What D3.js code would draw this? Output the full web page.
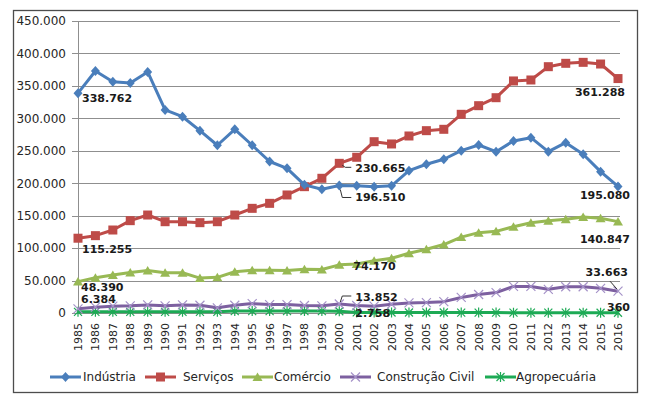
<!DOCTYPE html>
<html>
<head>
<meta charset="utf-8">
<script src="https://cdn.jsdelivr.net/npm/d3@7"></script>
<style>
	body { margin: 0; background: #fff; }
	svg { display: block; font-family: "DejaVu Sans", sans-serif; }
</style>
</head>
<body>
<div id="chart"></div>
<script>
// Data
const years = d3.range(1985, 2017).map(String)

const industria = [338762, 373000, 356500, 354500, 371500, 313000, 302500, 281000, 258500, 283000,
	258500, 233500, 223000, 197500, 190700, 196510, 196000, 194700, 196000, 219300,
	229200, 236900, 250200, 258900, 248600, 265100, 270200, 248600, 262500, 244600,
	217800, 195080]
const servicos = [115255, 119200, 127900, 142300, 151000, 140700, 140700, 139200, 140700, 151000,
	161300, 169000, 181900, 194700, 207600, 230665, 240000, 264000, 260500, 272800,
	281000, 283100, 306200, 319500, 331800, 357600, 359100, 379600, 384800, 386300,
	383700, 361288]
const comercio = [48390, 54400, 58600, 62400, 65500, 62000, 62000, 53800, 55000, 63500,
	65800, 65800, 65500, 67500, 67000, 74170, 75500, 80600, 84300, 92000,
	98200, 105500, 117000, 123800, 125800, 133000, 139200, 142300, 144400, 148000,
	146000, 140847]
const construcao = [6384, 9000, 10500, 11000, 12500, 11000, 12500, 12000, 8000, 12000,
	14500, 13000, 13000, 11500, 11000, 13852, 11500, 10500, 13500, 15500,
	16000, 17500, 24000, 28500, 31500, 41000, 41000, 36500, 40500, 40500,
	38000, 33663]
const agropecuaria = [1800, 1800, 1800, 1800, 1800, 1800, 1800, 1800, 1800, 3000,
	3000, 3000, 3000, 3000, 3000, 2758, 900, 800, 800, 700,
	700, 700, 600, 600, 600, 500, 500, 500, 500, 450,
	400, 360]

const seriesNames = ["Indústria", "Serviços", "Comércio", "Construção Civil", "Agropecuária"]
const yTicks = d3.range(0, 450001, 50000)

// labelled points: series index, year
const labelPoints = [
	[0, "1985"], [1, "1985"], [2, "1985"], [3, "1985"],
	[0, "2000"], [1, "2000"], [2, "2000"], [3, "2000"], [4, "2000"],
	[0, "2016"], [1, "2016"], [2, "2016"], [3, "2016"], [4, "2016"],
]

// Layout
const W = 650, H = 399
const colors = ["#4a7ebb", "#be4b48", "#98b954", "#7d60a0", "#1daa55"]
const markerColors = ["#4a7ebb", "#be4b48", "#98b954", "#a592c8", "#1daa55"]
const values = [industria, servicos, comercio, construcao, agropecuaria]

const fmt = d3.formatLocale({ decimal: ",", thousands: ".", grouping: [3], currency: ["R$", ""] }).format(",")

const svg = d3.select("#chart").append("svg").attr("width", W).attr("height", H)
svg.append("rect").attr("width", W).attr("height", H).attr("fill", "#fff")

// outer border
svg.append("rect")
	.attr("x", 13.5).attr("y", 10.5)
	.attr("width", 624).attr("height", 382)
	.attr("fill", "none").attr("stroke", "#4d4d4d").attr("stroke-width", 1.3)

const x = d3.scalePoint().domain(years).range([78, 618])
const y = d3.scaleLinear().domain([0, 450000]).range([313, 21])

// gridlines
svg.append("g")
	.selectAll("line")
	.data(yTicks)
	.join("line")
	.attr("x1", 72).attr("x2", 620)
	.attr("y1", (d) => Math.round(y(d)) + 0.5)
	.attr("y2", (d) => Math.round(y(d)) + 0.5)
	.attr("stroke", "#8f8f8f").attr("stroke-width", 1)

// vertical axis
svg.append("line")
	.attr("x1", 78.5).attr("x2", 78.5)
	.attr("y1", y(450000)).attr("y2", y(0))
	.attr("stroke", "#8f8f8f")

// y tick labels
svg.append("g")
	.selectAll("text")
	.data(yTicks)
	.join("text")
	.attr("x", 66).attr("y", (d) => y(d))
	.attr("dy", "0.36em")
	.attr("text-anchor", "end")
	.style("font-size", "12px")
	.attr("fill", "#262626")
	.text((d) => fmt(d))

// x tick labels (rotated)
svg.append("g")
	.selectAll("text")
	.data(years)
	.join("text")
	.attr("transform", (d) => `translate(${x(d)},323) rotate(-90)`)
	.attr("dy", "0.36em")
	.attr("text-anchor", "end")
	.style("font-size", "11px")
	.attr("fill", "#262626")
	.text((d) => d)

// marker shapes
const drawMarker = (g, i, c) => {
	if (i === 0) {
		g.append("path").attr("d", "M0,-5L4.5,0L0,5L-4.5,0Z").attr("fill", c)
	} else if (i === 1) {
		g.append("rect").attr("x", -4.5).attr("y", -4.5).attr("width", 9).attr("height", 9).attr("fill", c)
	} else if (i === 2) {
		g.append("path").attr("d", "M0,-4.5L5,4L-5,4Z").attr("fill", c)
	} else if (i === 3) {
		g.append("path").attr("d", "M-4.5,-4.5L4.5,4.5M-4.5,4.5L4.5,-4.5").attr("stroke", c).attr("stroke-width", 1.2)
	} else {
		g.append("path").attr("d", "M-4,-4L4,4M-4,4L4,-4M0,-5L0,5").attr("stroke", c).attr("stroke-width", 1.2)
	}
}

const line = d3.line().x((d, i) => x(years[i])).y((d) => y(d))

// draw series, back to front
;[4, 3, 2, 1, 0].forEach((s) => {
	const g = svg.append("g")
	g.append("path")
		.datum(values[s])
		.attr("fill", "none")
		.attr("stroke", colors[s])
		.attr("stroke-width", 3)
		.attr("stroke-linejoin", "round")
		.attr("d", line)
	values[s].forEach((v, i) => {
		const m = g.append("g").attr("transform", `translate(${x(years[i])},${y(v)})`)
		drawMarker(m, s, markerColors[s])
	})
})

// data labels: offsets relative to the point (dx, dy to text centre, anchor, leader path)
const labelOffsets = {
	"0-1985": [4, 5, "start"],
	"1-1985": [4, 11, "start"],
	"2-1985": [3, 5, "start"],
	"3-1985": [3, -10, "start"],
	"0-2000": [16, 12, "start", "M1,4L3,12L12,12"],
	"1-2000": [16, 5, "start", "M3,2L6,4L12,4"],
	"2-2000": [14, 1, "start"],
	"3-2000": [16, -7, "start", "M1,-2L3,-8L12,-8"],
	"4-2000": [16, 2, "start"],
	"0-2016": [12, 9, "end"],
	"1-2016": [7, 13.5, "end"],
	"2-2016": [12, 17, "end"],
	"3-2016": [10, -19, "end", "M-1,-2L-8,-10"],
	"4-2016": [12, -6, "end"],
}

labelPoints.forEach(([s, yr]) => {
	const i = years.indexOf(yr)
	const px = x(yr), py = y(values[s][i])
	const [dx, dy, anchor, leader] = labelOffsets[`${s}-${yr}`]
	if (leader) {
		svg.append("path")
			.attr("transform", `translate(${px},${py})`)
			.attr("d", leader)
			.attr("fill", "none")
			.attr("stroke", "#333")
			.attr("stroke-width", 1)
	}
	svg.append("text")
		.attr("x", px + dx).attr("y", py + dy)
		.attr("dy", "0.36em")
		.attr("text-anchor", anchor)
		.style("font-size", "11px")
		.style("font-weight", "bold")
		.attr("fill", "#1a1a1a")
		.text(fmt(values[s][i]))
})

// legend
const legendLine = [50, 145, 242, 340, 485]
const legendText = [83, 183, 274, 377, 516]
const legendY = 377

seriesNames.forEach((name, s) => {
	const g = svg.append("g")
	g.append("line")
		.attr("x1", legendLine[s]).attr("x2", legendLine[s] + 31)
		.attr("y1", legendY).attr("y2", legendY)
		.attr("stroke", colors[s]).attr("stroke-width", 3)
	const m = g.append("g").attr("transform", `translate(${legendLine[s] + 15.5},${legendY})`)
	drawMarker(m, s, markerColors[s])
	g.append("text")
		.attr("x", legendText[s]).attr("y", legendY)
		.attr("dy", "0.36em")
		.style("font-size", "12px")
		.attr("fill", "#262626")
		.text(name)
})
</script>
</body>
</html>
